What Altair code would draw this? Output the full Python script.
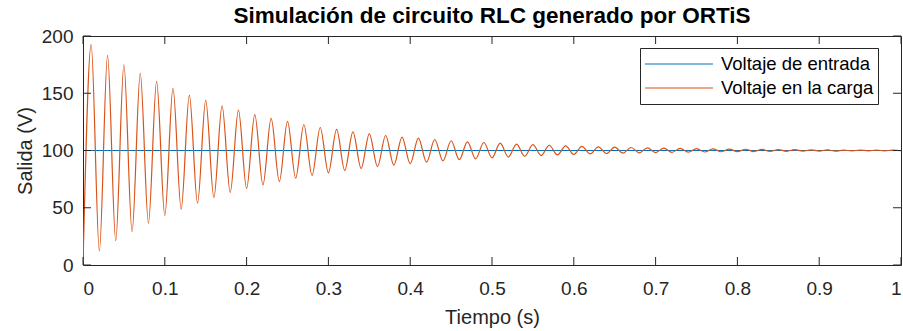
import altair as alt
import pandas as pd

# Peak / trough times (s) of the load voltage
t_load = [0.00, 0.01, 0.02, 0.03, 0.04, 0.05, 0.06, 0.07, 0.08, 0.09,
          0.10, 0.11, 0.12, 0.13, 0.14, 0.15, 0.16, 0.17, 0.18, 0.19,
          0.20, 0.21, 0.22, 0.23, 0.24, 0.25, 0.26, 0.27, 0.28, 0.29,
          0.30, 0.31, 0.32, 0.33, 0.34, 0.35, 0.36, 0.37, 0.38, 0.39,
          0.40, 0.41, 0.42, 0.43, 0.44, 0.45, 0.46, 0.47, 0.48, 0.49,
          0.50, 0.51, 0.52, 0.53, 0.54, 0.55, 0.56, 0.57, 0.58, 0.59,
          0.60, 0.61, 0.62, 0.63, 0.64, 0.65, 0.66, 0.67, 0.68, 0.69,
          0.70, 0.71, 0.72, 0.73, 0.74, 0.75, 0.76, 0.77, 0.78, 0.79,
          0.80, 0.81, 0.82, 0.83, 0.84, 0.85, 0.86, 0.87, 0.88, 0.89,
          0.90, 0.91, 0.92, 0.93, 0.94, 0.95, 0.96, 0.97, 0.98, 0.99, 1.00]
v_load = [0.0, 192.4, 12.3, 183.0, 21.3, 174.9, 29.2, 167.3, 36.5, 160.3,
          43.2, 154.2, 48.8, 148.4, 54.0, 143.7, 58.9, 139.0, 63.3, 135.3,
          66.8, 131.4, 70.0, 128.0, 72.9, 125.4, 75.8, 122.7, 78.2, 120.1,
          80.5, 118.4, 82.5, 116.3, 84.3, 114.6, 86.0, 113.1, 87.2, 111.7,
          88.4, 110.8, 89.8, 109.6, 90.9, 108.5, 92.0, 107.6, 92.7, 107.0,
          93.6, 106.4, 94.3, 105.6, 95.0, 105.1, 95.6, 104.6, 96.1, 104.1,
          96.6, 103.6, 97.0, 103.2, 97.4, 102.9, 97.7, 102.6, 98.0, 102.3,
          98.2, 102.0, 98.4, 101.8, 98.6, 101.6, 98.7, 101.4, 98.9, 101.2,
          99.0, 101.1, 99.1, 100.9, 99.2, 100.8, 99.3, 100.7, 99.4, 100.6,
          99.5, 100.5, 99.5, 100.4, 99.6, 100.4, 99.7, 100.3, 99.7, 100.3, 99.8]

# Input voltage (constant step)
t_in = [0.0, 1.0]
v_in = [100.0, 100.0]

series_names = ["Voltaje de entrada", "Voltaje en la carga"]
series_colors = ["#0072BD", "#D95319"]

x_ticks = [0, 0.1, 0.2, 0.3, 0.4, 0.5, 0.6, 0.7, 0.8, 0.9, 1]
y_ticks = [0, 50, 100, 150, 200]

W, H = 818, 229
TL = 8
FONT = "Liberation Sans"

df = pd.concat([
    pd.DataFrame({"t": t_in, "v": v_in, "serie": series_names[0]}),
    pd.DataFrame({"t": t_load, "v": v_load, "serie": series_names[1]}),
], ignore_index=True)
dfx = pd.DataFrame({"tick": x_ticks})
dfy = pd.DataFrame({"tick": y_ticks})

xscale = alt.Scale(domain=[0, 1], nice=False, zero=False)
yscale = alt.Scale(domain=[0, 200], nice=False, zero=False)
xaxis = alt.Axis(values=x_ticks, format="~g", title="Tiempo (s)",
                 labelPadding=14, titlePadding=9)
yaxis = alt.Axis(values=y_ticks, format="d", title="Salida (V)",
                 labelPadding=10, titlePadding=6)

lines = alt.Chart(df).mark_line(strokeWidth=1.2, interpolate="monotone", clip=True).encode(
    x=alt.X("t:Q", scale=xscale, axis=xaxis),
    y=alt.Y("v:Q", scale=yscale, axis=yaxis),
    color=alt.Color("serie:N",
                    scale=alt.Scale(domain=series_names, range=series_colors),
                    legend=alt.Legend(title=None, orient="none", legendX=557, legendY=12,
                                      strokeColor="#262626", fillColor="white",
                                      padding=4, symbolType="stroke", symbolSize=4624,
                                      symbolStrokeWidth=1.2, clipHeight=24, rowPadding=0,
                                      labelFont=FONT, labelFontSize=18.5, labelColor="#000000",
                                      labelOffset=7, labelLimit=300)),
    order=alt.Order("t:Q"),
)

tick_style = dict(color="#262626", strokeWidth=1)
xt_bottom = alt.Chart(dfx).mark_rule(**tick_style).encode(
    x=alt.X("tick:Q", scale=xscale, axis=xaxis), y=alt.value(H), y2=alt.value(H - TL))
xt_top = alt.Chart(dfx).mark_rule(**tick_style).encode(
    x=alt.X("tick:Q", scale=xscale, axis=xaxis), y=alt.value(0), y2=alt.value(TL))
yt_left = alt.Chart(dfy).mark_rule(**tick_style).encode(
    y=alt.Y("tick:Q", scale=yscale, axis=yaxis), x=alt.value(0), x2=alt.value(TL))
yt_right = alt.Chart(dfy).mark_rule(**tick_style).encode(
    y=alt.Y("tick:Q", scale=yscale, axis=yaxis), x=alt.value(W), x2=alt.value(W - TL))

chart = alt.layer(lines, xt_bottom, xt_top, yt_left, yt_right).properties(
    width=W, height=H,
    autosize=alt.AutoSizeParams(type="none"),
    padding={"left": 83, "top": 36, "right": 2, "bottom": 66},
    title=alt.TitleParams("Simulación de circuito RLC generado por ORTiS",
                          font=FONT, fontSize=22.5, fontWeight="bold", color="#000000",
                          anchor="middle", baseline="alphabetic", offset=10, dy=28),
).configure_view(stroke="#262626", strokeWidth=1).configure_axis(
    grid=False, domain=False, ticks=False,
    labelFont=FONT, labelFontSize=19, labelColor="#262626",
    titleFont=FONT, titleFontSize=20, titleFontWeight="normal", titleColor="#262626",
)

chart.save("out.html", embed_options={"renderer": "svg", "actions": False})
